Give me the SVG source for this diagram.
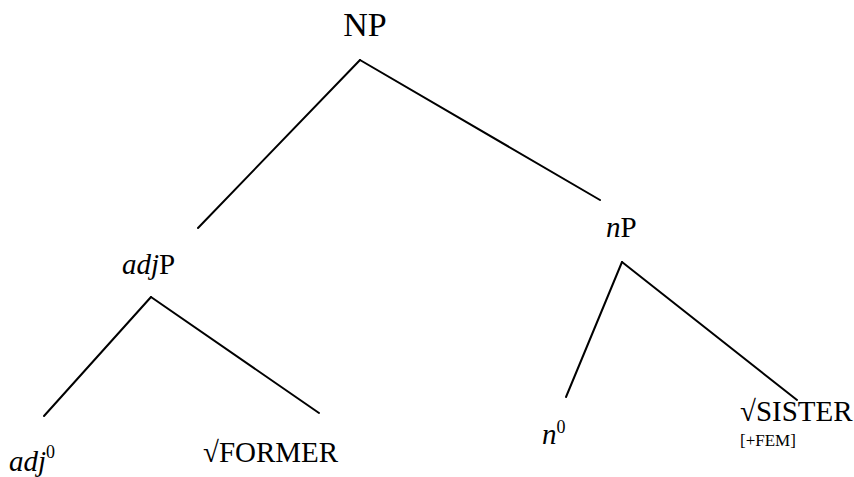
<svg xmlns="http://www.w3.org/2000/svg" width="854" height="477" viewBox="0 0 854 477">
<style>
text{font-family:"Liberation Serif","Times New Roman",serif;fill:#000;font-size:29px}
.i{font-style:italic}
.sup{font-size:18px}
.small{font-size:17px}
.edge{stroke:#000;stroke-width:2;fill:none;stroke-linecap:round}
</style>
<rect width="854" height="477" fill="#fff"/>
<g id="connectors">
<line class="edge" x1="360" y1="60" x2="198" y2="228"/>
<line class="edge" x1="360" y1="60" x2="600" y2="200"/>
<line class="edge" x1="151" y1="297" x2="44" y2="416"/>
<line class="edge" x1="151" y1="297" x2="319" y2="413"/>
<line class="edge" x1="622" y1="262" x2="566" y2="397"/>
<line class="edge" x1="622" y1="262" x2="797" y2="400"/>
</g>
<g id="NP"><text x="365" y="36" text-anchor="middle" style="font-size:34px">NP</text></g>
<g id="adjP"><text x="122" y="274"><tspan class="i">adj</tspan>P</text></g>
<g id="nP"><text x="606" y="237"><tspan class="i">n</tspan>P</text></g>
<g id="adj0"><text x="9" y="471"><tspan class="i">adj</tspan><tspan class="sup" dy="-13">0</tspan></text></g>
<g id="FORMER"><text x="203" y="462">√FORMER</text></g>
<g id="n0"><text x="542" y="444"><tspan class="i">n</tspan><tspan class="sup" dy="-11">0</tspan></text></g>
<g id="SISTER"><text x="740" y="421">√SISTER</text><text class="small" x="740" y="446">[+FEM]</text></g>
</svg>
